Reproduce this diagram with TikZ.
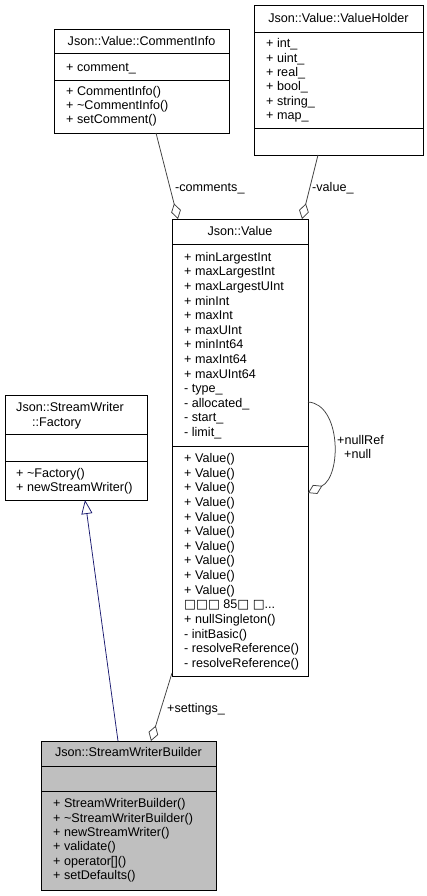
\documentclass[tikz,border=0pt]{standalone}
\usepackage{fontspec}
\setmainfont{Liberation Sans}
\newfontfamily\symf{DejaVu Sans}
\usetikzlibrary{arrows.meta,calc}
\definecolor{edgegray}{HTML}{404040}
\definecolor{inhblue}{HTML}{191970}
\definecolor{fillgray}{HTML}{BFBFBF}
\newcommand\dgfont{\fontsize{12.6}{14}\selectfont}
\begin{document}
\begin{tikzpicture}[x=1pt,y=-1pt,
  cls/.style={draw=black, line width=0.8pt, fill=white, inner sep=0pt, outer sep=0pt, anchor=north west},
  sepline/.style={draw=black, line width=0.8pt},
  txt/.style={anchor=base west, inner sep=0pt, font=\dgfont},
  ttl/.style={anchor=base, inner sep=0pt, font=\dgfont},
  agg/.style={draw=edgegray, line width=0.75pt, -{Diamond[open, length=16pt, width=10pt]}},
  inh/.style={draw=inhblue, line width=0.75pt, -{Triangle[open, length=14pt, width=11pt]}}]
\fill[white] (0,0) rectangle (427,896);
\useasboundingbox (0,0) rectangle (427,896);

% Json::Value::CommentInfo
\node[cls, minimum width=175pt, minimum height=104pt] (ci) at (54,29) {};
\draw[sepline] (54,53) -- (229,53);
\draw[sepline] (54,80) -- (229,80);
\node[ttl] (ciT) at (141.5,45.5) {Json::Value::CommentInfo};
\node[txt] (ciA0) at (66,71.5) {+ comment\_};
\foreach \t [count=\i from 0] in {+ CommentInfo(), + \textasciitilde CommentInfo(), + setComment()}
  \node[txt] (ciM\i) at (66,{95.5+\i*14}) {\t};

% Json::Value::ValueHolder
\node[cls, minimum width=169pt, minimum height=150pt] (vh) at (254,5) {};
\draw[sepline] (254,32) -- (423,32);
\draw[sepline] (254,128) -- (423,128);
\node[ttl] (vhT) at (338.5,22.5) {Json::Value::ValueHolder};
\foreach \t [count=\i from 0] in {+ int\_, + uint\_, + real\_, + bool\_, + string\_, + map\_}
  \node[txt] (vhA\i) at (266,{48+\i*14.3}) {\t};

% Json::Value
\node[cls, minimum width=136pt, minimum height=457pt] (val) at (172,219) {};
\draw[sepline] (172,244) -- (308,244);
\draw[sepline] (172,446) -- (308,446);
\node[ttl] (valT) at (240,235.5) {Json::Value};
\foreach \t [count=\i from 0] in {+ minLargestInt, + maxLargestInt, + maxLargestUInt, + minInt, + maxInt, + maxUInt, + minInt64, + maxInt64, + maxUInt64, - type\_, - allocated\_, - start\_, - limit\_}
  \node[txt] (valA\i) at (184,{261.2+\i*14.6}) {\t};
\foreach \i in {0,...,9}
  \node[txt] (valM\i) at (184,{462.5+\i*14.64}) {+ Value()};
\node[txt] (valM10) at (184,{462.5+10*14.64}) {{\symf □□□} 85{\symf □} {\symf □}...};
\foreach \t [count=\i from 11] in {+ nullSingleton(), - initBasic(), - resolveReference(), - resolveReference()}
  \node[txt] (valM\i) at (184,{462.5+\i*14.64}) {\t};

% Json::StreamWriter::Factory
\node[cls, minimum width=142pt, minimum height=105pt] (fac) at (5,395) {};
\draw[sepline] (5,434) -- (147,434);
\draw[sepline] (5,461) -- (147,461);
\node[txt] (facT1) at (16,411.5) {Json::StreamWriter};
\node[txt] (facT2) at (32,426.5) {::Factory};
\node[txt] (facM0) at (16,477.5) {+ \textasciitilde Factory()};
\node[txt] (facM1) at (16,491.5) {+ newStreamWriter()};

% Json::StreamWriterBuilder
\node[cls, fill=fillgray, minimum width=175pt, minimum height=149pt] (bld) at (41,741) {};
\draw[sepline] (41,766) -- (216,766);
\draw[sepline] (41,791) -- (216,791);
\node[ttl] (bldT) at (128.5,756.5) {Json::StreamWriterBuilder};
\foreach \t [count=\i from 0] in {+ StreamWriterBuilder(), + \textasciitilde StreamWriterBuilder(), + newStreamWriter(), + validate(), + operator[](), + setDefaults()}
  \node[txt] (bldM\i) at (53,{807.8+\i*14.3}) {\t};

% connectors
\draw[agg] ([xshift=102pt]ci.south west) -- ([xshift=6pt]val.north west);
\draw[agg] ([xshift=64pt]vh.south west) -- ([xshift=130pt]val.north west);
\draw[agg] ([yshift=-183pt]val.north east) .. controls +(33,2) and +(34,-17) .. ([yshift=-274pt]val.north east);
\draw[agg] ([yshift=3pt]val.south west) -- ([xshift=110pt]bld.north west);
\draw[inh] ([xshift=77pt]bld.north west) -- ([xshift=80pt]fac.south west);

% labels
\node[txt] (lcom) at (175,191.5) {-comments\_};
\node[txt] (lval) at (312,191.5) {-value\_};
\node[txt] (lnr) at (337,444.5) {+nullRef};
\node[txt] (lnl) at (344,458.5) {+null};
\node[txt] (lset) at (167,712.5) {+settings\_};
\end{tikzpicture}
\end{document}
